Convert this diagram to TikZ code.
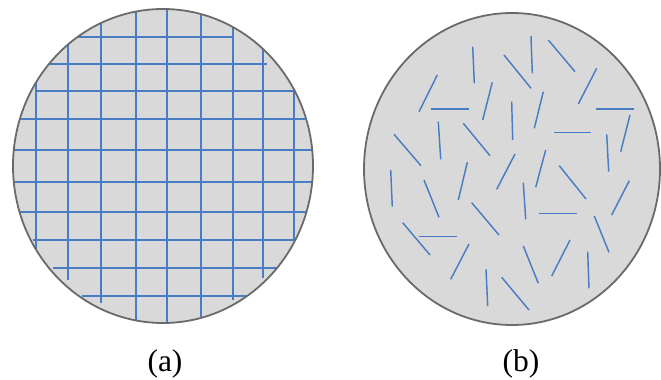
\documentclass[tikz,border=0pt]{standalone}
\usepackage{fontspec}
\setmainfont{Liberation Serif}
\definecolor{discfill}{HTML}{D9D9D9}
\definecolor{discedge}{HTML}{6A6A6A}
\definecolor{fibre}{HTML}{4A7CC4}
\begin{document}
\begin{tikzpicture}[x=1pt,y=-1pt,
  disc/.style={fill=discfill,draw=discedge,line width=1.8pt},
  fibreline/.style={draw=fibre,line width=1.45pt},
  caption/.style={font=\fontsize{31.5}{36}\selectfont,inner sep=0pt}]
\useasboundingbox (0,0) rectangle (661,380);
% (a) disc with grid
\fill[discfill] (163,166) ellipse [x radius=150,y radius=157];
\begin{scope}
\clip (163,166) ellipse [x radius=150,y radius=157];
\foreach \y/\a/\b in {37/68/233,64/45/267,91/35/295,119/20/305,150/10/318,182/10/318,212/18/310,240/33/297,268/53/278,296/82/247}
  \draw[fibreline] (\a,\y) -- (\b,\y);
\foreach \x/\a/\b in {36/78/253,68/43/280,101/23/303,136/12/320,167/8/326,201/12/320,233/27/300,263/47/278,294/87/240}
  \draw[fibreline] (\x,\a) -- (\x,\b);
\end{scope}
\draw[discedge,line width=1.8pt] (163,166) ellipse [x radius=150,y radius=157];
% (b) disc with short fibres
\draw[disc] (512,169) ellipse [x radius=148,y radius=156];
\foreach \xa/\ya/\xb/\yb in {
 472.7/46.7/474.3/83.3, 531/36/532.3/73.3, 548.3/40/575/71.7, 504/55/531/88.3,
 437.3/75/419/111.7, 431/109/469/109, 492.3/82.3/482.7/120, 596.7/68.3/578.3/104,
 543.3/91.7/534.3/128.3, 511.7/101.7/512.7/140, 596/109/634/109, 630/115/620.7/151.7,
 554/132.3/591/132.3, 438.3/121.7/440.7/159.3, 463.3/123.3/490/155.7, 394/134.3/421/165.7,
 606.7/134.3/608.7/171.7, 515/154/496.7/189.3, 545.7/150/535.7/187.3, 467.3/162.3/458.3/200,
 559.3/165.7/586/199, 390.7/170/392.3/206.7, 424/180/439/217.3, 523.3/182.7/525.7/219.3,
 629.3/180.7/611.7/215, 539.3/213.3/577.3/213.3, 471.7/202.7/499/235, 594.3/216/609/252.3,
 402.7/222.7/430/255, 419/236.7/456.7/236.7, 469/244/450.7/279.3, 523.3/246/538.3/283.3,
 570/240/551.7/276, 587.7/251.7/589/288.3, 486/269.3/487.7/306, 501.7/277.3/529/310}
  \draw[fibreline] (\xa,\ya) -- (\xb,\yb);
% captions
\node[caption] (capa) at (165,364) {(a)};
\node[caption] (capb) at (521,364) {(b)};
\end{tikzpicture}
\end{document}
